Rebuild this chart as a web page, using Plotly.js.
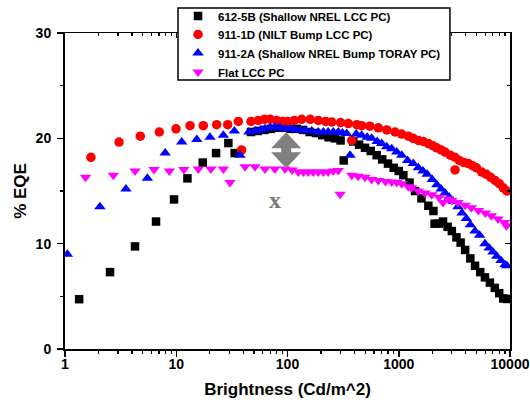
<!DOCTYPE html>
<html>
<head>
<meta charset="utf-8">
<script src="https://cdn.plot.ly/plotly-3.0.1.min.js"></script>
<style>
html,body{margin:0;padding:0;background:#fff;}
#chart{width:530px;height:405px;}
</style>
</head>
<body>
<div id="chart"></div>
<script>
// ---- Data ----
const names = ["612-5B (Shallow NREL LCC PC)", "911-1D (NILT Bump LCC PC)", "911-2A (Shallow NREL Bump TORAY PC)", "Flat LCC PC"];

const x612 = [1.34, 2.54, 4.26, 6.58, 9.55, 12.6, 17.3, 22.8, 29.4, 33.5, 47, 54, 62, 71, 81, 93, 106, 121, 138, 158, 180, 205, 234, 267, 300, 320, 390, 440, 497, 560, 633, 710, 800, 900, 1000, 1100, 1250, 1400, 1600, 1845, 2050, 2100, 2300, 2500, 2750, 3000, 3300, 3600, 3950, 4400, 4850, 5400, 5950, 6600, 7300, 8000, 8700, 9400];
const y612 = [4.73, 7.3, 9.74, 12.1, 14.2, 16.2, 17.7, 18.6, 19.55, 18.6, 20.6, 20.7, 20.8, 20.9, 21.0, 21.0, 20.9, 20.9, 20.8, 20.6, 20.5, 20.3, 20.1, 20.0, 19.8, 17.9, 19.7, 19.4, 19.1, 18.8, 18.4, 18.0, 17.6, 17.2, 16.9, 16.5, 15.8, 15.0, 14.3, 13.6, 13.1, 11.9, 11.9, 12.1, 11.6, 11.2, 10.6, 10.1, 9.4, 8.6, 7.9, 7.3, 6.8, 6.3, 5.8, 5.3, 4.8, 4.75];

const x9111 = [1.71, 3.06, 4.75, 7.04, 9.95, 13.3, 17.5, 23.1, 29, 36.1, 38.7, 47, 54.6, 62, 70, 80, 90, 100, 115, 134, 160, 189, 220, 250, 300, 352, 378, 420, 464, 550, 655, 780, 925, 1060, 1219, 1350, 1500, 1660, 1845, 2020, 2200, 2400, 2606, 2900, 3206, 3206, 3500, 3850, 4225, 4600, 5000, 5560, 6100, 6700, 7330, 8000, 8700, 9340];
const y9111 = [18.2, 19.65, 20.2, 20.6, 20.9, 21.2, 21.2, 21.3, 21.3, 21.6, 18.9, 21.6, 21.7, 21.8, 21.8, 21.7, 21.6, 21.6, 21.7, 21.8, 21.8, 21.7, 21.6, 21.55, 21.5, 21.4, 19.8, 21.3, 21.2, 21.15, 21.0, 20.8, 20.6, 20.4, 20.2, 20.0, 19.8, 19.7, 19.5, 19.3, 19.1, 18.9, 18.7, 18.4, 18.2, 17.0, 17.9, 17.7, 17.6, 17.4, 17.2, 16.8, 16.6, 16.3, 16.0, 15.7, 15.3, 15.0];

const x9112 = [1.05, 2.06, 3.53, 5.5, 7.95, 11.2, 15.3, 20.1, 26.5, 33.3, 37.4, 45, 51, 57, 62.8, 70, 77.2, 86, 95, 106, 117, 130, 144, 165, 189, 210, 232, 258, 286, 312, 340, 365, 415, 464, 520, 571, 640, 703, 780, 865, 960, 1064, 1200, 1350, 1500, 1650, 1800, 2000, 2200, 2400, 2606, 2850, 3100, 3400, 3700, 4050, 4400, 4845, 5330, 5958, 6500, 7030, 7600, 8300, 9020, 9400];
const y9112 = [9.0, 13.5, 15.2, 16.2, 18.6, 19.65, 19.9, 20.1, 20.3, 20.7, 18.4, 20.6, 20.7, 20.8, 20.9, 21.0, 21.1, 21.0, 20.9, 20.9, 20.85, 20.8, 20.75, 20.7, 20.6, 20.6, 20.6, 20.6, 20.6, 20.5, 20.45, 18.4, 20.4, 20.3, 20.1, 20.0, 19.7, 19.5, 19.2, 19.0, 18.7, 18.4, 17.9, 17.6, 17.2, 16.9, 16.6, 16.1, 15.6, 15.2, 14.8, 14.4, 14.0, 13.5, 12.9, 12.4, 11.8, 11.2, 10.8, 10.0, 9.6, 9.2, 8.8, 8.4, 8.0, 7.9];

const xFlat = [1.53, 2.72, 4.26, 6.31, 8.66, 11.7, 15.8, 20.5, 26.5, 30.4, 41.5, 51, 62.8, 77, 95, 110, 125, 139, 153, 170, 189, 210, 232, 258, 286, 297, 378, 430, 497, 570, 655, 760, 865, 960, 1064, 1219, 1300, 1500, 1720, 1980, 2300, 2500, 2787, 3000, 3400, 3950, 4500, 5200, 6000, 6800, 7800, 8900, 9300];
const yFlat = [16.3, 16.5, 16.9, 17.05, 16.9, 17.05, 17.1, 17.1, 17.1, 15.8, 17.3, 17.3, 17.1, 17.1, 17.1, 17.0, 16.8, 16.8, 16.8, 16.8, 16.8, 16.8, 16.8, 16.9, 16.95, 14.7, 16.5, 16.4, 16.3, 16.1, 16.0, 15.9, 15.85, 15.8, 15.7, 15.4, 15.3, 15.0, 14.8, 14.65, 14.4, 13.9, 14.25, 14.1, 13.9, 13.65, 13.4, 13.15, 12.9, 12.65, 12.35, 12.0, 11.7];

const xTickVals = [1, 10, 100, 1000, 10000];
const xTickText = ["1", "10", "100", "1000", "10000"];
const xMinorVals = [2,3,4,5,6,7,8,9,20,30,40,50,60,70,80,90,200,300,400,500,600,700,800,900,2000,3000,4000,5000,6000,7000,8000,9000];
const yTickVals = [0, 10, 20, 30];
const yMinorVals = [5, 15, 25];

// ---- Plot ----
const FONT = "Arial, 'Liberation Sans', sans-serif";
const traces = [
  {x: x612, y: y612, name: names[0], type: 'scatter', mode: 'markers', legend: 'legend',
   marker: {symbol: 'square', size: 8.5, color: '#000000'}},
  {x: x9111, y: y9111, name: names[1], type: 'scatter', mode: 'markers', legend: 'legend2',
   marker: {symbol: 'circle', size: 9.5, color: '#ff0000'}},
  {x: x9112, y: y9112, name: names[2], type: 'scatter', mode: 'markers', legend: 'legend3',
   marker: {symbol: 'triangle-up', size: 10, color: '#0000ff'}},
  {x: xFlat, y: yFlat, name: names[3], type: 'scatter', mode: 'markers', legend: 'legend4',
   marker: {symbol: 'triangle-down', size: 10, color: '#ff00ff'}},
  {x: [], y: [], xaxis: 'x2', yaxis: 'y2', showlegend: false, hoverinfo: 'skip', type: 'scatter', mode: 'markers'}
];

function legendAt(rowPx) {
  return {
    x: 0.254, xanchor: 'left', xref: 'paper',
    y: 1 - rowPx / 405, yanchor: 'middle', yref: 'container',
    bgcolor: 'rgba(0,0,0,0)', borderwidth: 0,
    font: {family: FONT, size: 11.5, color: '#000', weight: 'bold'},
    itemwidth: 30
  };
}

const tickFont = {family: FONT, size: 14, color: '#000', weight: 'bold'};
const layout = {
  width: 530, height: 405,
  margin: {l: 65, r: 20, t: 33, b: 56, autoexpand: false},
  paper_bgcolor: '#fff', plot_bgcolor: '#fff',
  showlegend: true,
  legend: legendAt(16),
  legend2: legendAt(34.5),
  legend3: legendAt(53),
  legend4: legendAt(72),
  xaxis: {
    type: 'log', range: [0, 4], showgrid: false, zeroline: false,
    showline: true, linecolor: '#000', linewidth: 1.5,
    ticks: 'outside', ticklen: 6, tickwidth: 1.5, tickcolor: '#000',
    tickmode: 'array', tickvals: xTickVals, ticktext: xTickText,
    tickfont: tickFont, ticklabelstandoff: -4,
    minor: {tickmode: 'array', tickvals: xMinorVals, ticks: 'outside', ticklen: 3, tickwidth: 1.2, tickcolor: '#000', showgrid: false},
    title: {text: 'Brightness (Cd/m^2)', font: {family: FONT, size: 17, color: '#000', weight: 'bold'}, standoff: 12}
  },
  yaxis: {
    range: [0, 30], showgrid: false, zeroline: false,
    showline: true, linecolor: '#000', linewidth: 2,
    ticks: 'outside', ticklen: 6, tickwidth: 1.5, tickcolor: '#000',
    tickmode: 'array', tickvals: yTickVals,
    tickfont: tickFont, ticklabelstandoff: 3,
    minor: {tickmode: 'array', tickvals: yMinorVals, ticks: 'outside', ticklen: 3, tickwidth: 1.2, tickcolor: '#000', showgrid: false},
    title: {text: '% EQE', font: {family: FONT, size: 17, color: '#000', weight: 'bold'}, standoff: 5}
  },
  xaxis2: {
    type: 'log', range: [0, 4], overlaying: 'x', side: 'top', anchor: 'y',
    showgrid: false, zeroline: false, showline: true, linecolor: '#000', linewidth: 1.5,
    ticks: 'inside', ticklen: 5, tickwidth: 1.2, tickcolor: '#000',
    tickmode: 'array', tickvals: xTickVals, showticklabels: false,
    minor: {tickmode: 'array', tickvals: xMinorVals, ticks: 'inside', ticklen: 3, tickwidth: 1.2, tickcolor: '#000', showgrid: false}
  },
  yaxis2: {
    range: [0, 30], overlaying: 'y', side: 'right', anchor: 'x',
    showgrid: false, zeroline: false, showline: true, linecolor: '#000', linewidth: 1.5,
    ticks: 'inside', ticklen: 5, tickwidth: 1.2, tickcolor: '#000',
    tickmode: 'array', tickvals: yTickVals, showticklabels: false,
    minor: {tickmode: 'array', tickvals: yMinorVals, ticks: 'inside', ticklen: 3, tickwidth: 1.2, tickcolor: '#000', showgrid: false}
  },
  shapes: [{
    type: 'rect', xref: 'paper', yref: 'paper', layer: 'above',
    x0: 0.254, x1: 0.865, y0: 0.851, y1: 1.079,
    fillcolor: '#ffffff', line: {color: '#000', width: 1.5}
  }, {
    type: 'path', xref: 'paper', yref: 'y', xsizemode: 'pixel', ysizemode: 'pixel',
    xanchor: 0.497, yanchor: 18.86,
    path: 'M 0 18 L 15 2 L 5 2 L 5 -2 L 15 -2 L 0 -18 L -15 -2 L -5 -2 L -5 2 L -15 2 Z',
    fillcolor: '#808080', line: {width: 0}
  }],
  annotations: [{
    xref: 'paper', yref: 'paper', x: 0.472, y: 0.47, text: 'x', showarrow: false,
    font: {family: "'Liberation Serif', 'Times New Roman', serif", size: 24, color: '#7a7a7a', weight: 'bold'}
  }]
};

Plotly.newPlot('chart', traces, layout, {displayModeBar: false, staticPlot: true});
</script>
</body>
</html>
